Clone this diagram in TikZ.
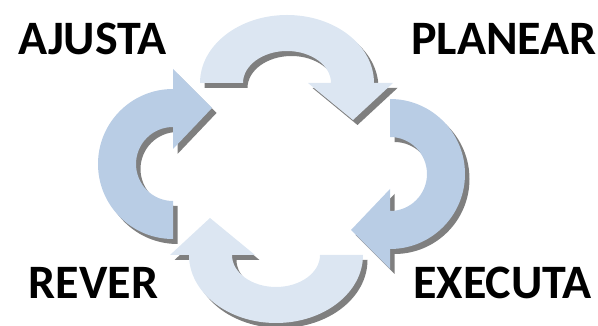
\documentclass[tikz,border=0pt]{standalone}
\usepackage{fontspec}
\setmainfont{Carlito}
\usepackage{xcolor}
\usetikzlibrary{shadows}
\definecolor{lightblue}{HTML}{DCE6F2}
\definecolor{midblue}{HTML}{B9CDE5}
\definecolor{shadowgray}{HTML}{7F7F7F}

\begin{document}
\begin{tikzpicture}[
        x=1pt, y=1pt,
        cyclearrow/.style={draw=none, drop shadow={shadow xshift=4.5pt, shadow yshift=-5pt, fill=shadowgray, opacity=1}},
        stagetext/.style={inner sep=0pt, anchor=base, font=\bfseries\fontsize{48}{56}\selectfont}
    ]
        \useasboundingbox (0,0) rectangle (598,326);

        % top arrow, towards PLANEAR
        \fill[cyclearrow, fill=lightblue] (200,243) arc[start angle=180, end angle=0, x radius=87, y radius=68]
            -- (393,243) -- (353,206) -- (308,243) -- (331,243)
            arc[start angle=0, end angle=180, x radius=44, y radius=32] -- cycle;

        % right arrow, towards EXECUTA
        \fill[cyclearrow, fill=midblue] (390,227) arc[start angle=90, end angle=-90, radius=75]
            -- (390,57) -- (351,96) -- (390,137) -- (390,115)
            arc[start angle=-90, end angle=90, radius=37] -- cycle;

        % bottom arrow, towards REVER
        \fill[cyclearrow, fill=lightblue] (363,71) arc[start angle=360, end angle=180, x radius=87, y radius=68]
            -- (170,71) -- (210,108) -- (255,71) -- (232,71)
            arc[start angle=180, end angle=360, x radius=44, y radius=32] -- cycle;

        % left arrow, towards AJUSTA
        \fill[cyclearrow, fill=midblue] (173,87) arc[start angle=-90, end angle=-270, radius=75]
            -- (173,257) -- (212,218) -- (173,177) -- (173,199)
            arc[start angle=90, end angle=270, radius=37] -- cycle;

        \node[stagetext] (ajusta) at (92.5,271) {AJUSTA};
        \node[stagetext] (planear) at (504,271) {PLANEAR};
        \node[stagetext] (rever) at (93.5,27) {REVER};
        \node[stagetext] (executa) at (502.5,27) {EXECUTA};
    \end{tikzpicture}
\end{document}
